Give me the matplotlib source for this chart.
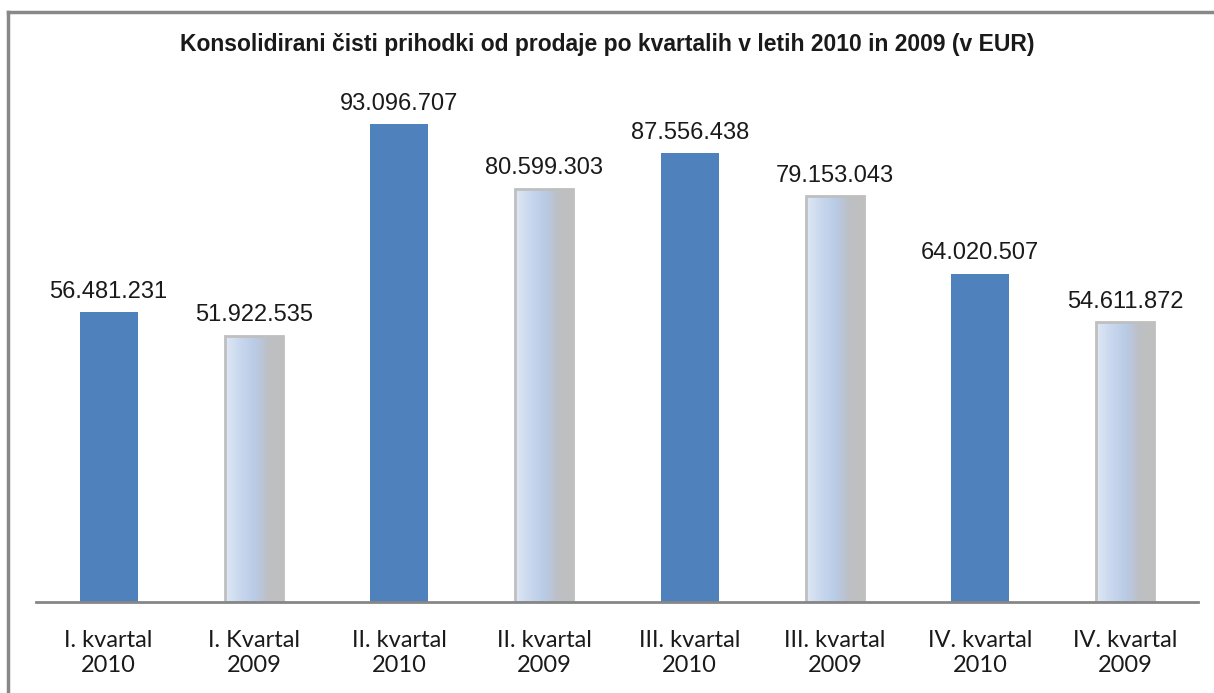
import numpy as np
import matplotlib.pyplot as plt
from matplotlib.colors import LinearSegmentedColormap
from matplotlib.lines import Line2D

# data
labels = ['I. kvartal\n2010', 'I. Kvartal\n2009', 'II. kvartal\n2010', 'II. kvartal\n2009',
          'III. kvartal\n2010', 'III. kvartal\n2009', 'IV. kvartal\n2010', 'IV. kvartal\n2009']
values = [56481231, 51922535, 93096707, 80599303, 87556438, 79153043, 64020507, 54611872]
years = [2010, 2009, 2010, 2009, 2010, 2009, 2010, 2009]

title = 'Konsolidirani čisti prihodki od prodaje po kvartalih v letih 2010 in 2009 (v EUR)'

def fmt(v):
    return '{:,}'.format(v).replace(',', '.')

fig = plt.figure(figsize=(12.14, 6.93), dpi=100)
ax = fig.add_axes([36 / 1214, 1 - 602 / 693, (1198 - 36) / 1214, (602 - 89) / 693])

grad = LinearSegmentedColormap.from_list('g', ['#dfe8f4', '#c9d8ee', '#b9cbe6', '#bdbfc3', '#c0c0c0'])
gimg = np.linspace(0, 1, 100).reshape(1, -1)

x = np.arange(len(values))
w = 0.40
bars = ax.bar(x, values, width=w, color='#4f81bd', zorder=2)
for b, y in zip(bars, years):
    if y == 2009:
        b.set_facecolor('none')
        b.set_edgecolor('#bfbfbf')
        b.set_linewidth(2)
        b.set_zorder(3)
        im = ax.imshow(gimg, cmap=grad, aspect='auto',
                       extent=[b.get_x(), b.get_x() + b.get_width(), 0, b.get_height()], zorder=2)
        im.set_clip_path(b)

for xi, v in zip(x, values):
    ax.text(xi, v + 1.8e6, fmt(v), ha='center', va='bottom', fontsize=17,
            family='Liberation Sans', color='#1a1a1a')

ax.set_xlim(-0.5, len(values) - 0.5)
ax.set_ylim(0, 100e6)
ax.set_yticks([])
ax.set_xticks(x)
ax.set_xticklabels(labels, fontsize=17, family='Lato', color='#1a1a1a', linespacing=1.25)
ax.tick_params(axis='x', length=0, pad=20)
for s in ['top', 'right', 'left']:
    ax.spines[s].set_visible(False)
ax.spines['bottom'].set_color('#868686')
ax.spines['bottom'].set_linewidth(2)
ax.spines['bottom'].set_zorder(4)

fig.text(0.5, 1 - 45 / 693, title, ha='center', va='center', fontsize=16.5,
         fontweight='bold', family='Liberation Sans', color='#1a1a1a')

# outer frame (only top and left visible in the crop)
fig.add_artist(Line2D([8 / 1214, 1], [1 - 12 / 693] * 2, color='#888888', lw=2.5))
fig.add_artist(Line2D([8 / 1214] * 2, [1 - 12 / 693, 0], color='#888888', lw=2.5))

fig.savefig('out.png', dpi=100)
